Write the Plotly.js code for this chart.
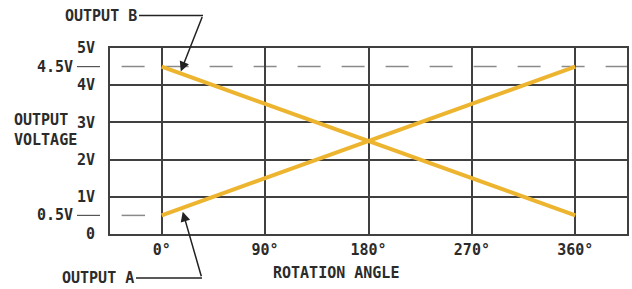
<!DOCTYPE html>
<html>
<head>
<meta charset="utf-8">
<script src="https://cdn.plot.ly/plotly-3.0.1.min.js"></script>
<style>html,body{margin:0;padding:0;background:#fff;}#chart{width:632px;height:289px;}</style>
</head>
<body>
<div id="chart"></div>
<script>
// Data
const angles = [0, 360];
const outputA = [0.5, 4.5];
const outputB = [4.5, 0.5];
const xTickVals = [0, 90, 180, 270, 360];
const xTickText = ['0°', '90°', '180°', '270°', '360°'];
const yTickVals = [0, 1, 2, 3, 4, 5];
const yTickText = ['0', '1V', '2V', '3V', '4V', '5V'];
const refLevels = [4.5, 0.5];
const refLabels = ['4.5V', '0.5V'];

const FONT = 'DejaVu Sans Mono, monospace';
const TXT = '#2b2b2b';
const GRID = '#404040';
const GOLD = '#EDB52F';
const FS = 15;

// plot area in pixels: x 110..627, y 47.5..234
const L = 110, R = 627, T = 47.5, B = 234;
const px = v => (v - L) / (R - L);
const py = v => (B - v) / (B - T);
const f = () => ({family: FONT, size: FS, color: TXT, weight: 'bold'});

const traces = [
  {x: angles, y: outputA, mode: 'lines', line: {color: GOLD, width: 4}, name: 'OUTPUT A', hoverinfo: 'skip'},
  {x: angles, y: outputB, mode: 'lines', line: {color: GOLD, width: 4}, name: 'OUTPUT B', hoverinfo: 'skip'}
];

const shapes = [
  {type: 'line', xref: 'x', yref: 'y', x0: -34.9, x1: 405, y0: refLevels[0], y1: refLevels[0],
   line: {color: '#8a8a8a', width: 1.5, dash: '23px,21px'}, layer: 'below'},
  {type: 'line', xref: 'x', yref: 'y', x0: -34.9, x1: -14.5, y0: refLevels[1], y1: refLevels[1],
   line: {color: '#8a8a8a', width: 1.5}, layer: 'below'},
  {type: 'line', xref: 'paper', yref: 'y', x0: px(77), x1: px(100), y0: refLevels[0], y1: refLevels[0],
   line: {color: '#555', width: 1.2}},
  {type: 'line', xref: 'paper', yref: 'y', x0: px(77), x1: px(100), y0: refLevels[1], y1: refLevels[1],
   line: {color: '#555', width: 1.2}},
  {type: 'line', xref: 'paper', yref: 'paper', x0: px(139), x1: px(203), y0: py(15), y1: py(15),
   line: {color: '#222', width: 1.5}},
  {type: 'line', xref: 'paper', yref: 'paper', x0: px(136), x1: px(202), y0: py(278), y1: py(278),
   line: {color: '#222', width: 1.5}}
];

const annotations = [
  {xref: 'paper', yref: 'y', x: px(75), y: refLevels[0], text: refLabels[0], showarrow: false,
   xanchor: 'right', yanchor: 'middle', font: f()},
  {xref: 'paper', yref: 'y', x: px(75), y: refLevels[1], text: refLabels[1], showarrow: false,
   xanchor: 'right', yanchor: 'middle', font: f()},
  {xref: 'paper', yref: 'paper', x: px(139), y: py(15), text: 'OUTPUT B', showarrow: false,
   xanchor: 'right', yanchor: 'middle', font: f()},
  {xref: 'paper', yref: 'paper', x: px(136), y: py(278), text: 'OUTPUT A', showarrow: false,
   xanchor: 'right', yanchor: 'middle', font: f()},
  {xref: 'paper', yref: 'paper', x: px(12), y: py(130), text: 'OUTPUT<br>VOLTAGE', showarrow: false,
   xanchor: 'left', yanchor: 'middle', align: 'left', font: f()},
  {xref: 'paper', yref: 'paper', x: px(336), y: py(273), text: 'ROTATION ANGLE', showarrow: false,
   xanchor: 'center', yanchor: 'middle', font: f()},
  {xref: 'x', yref: 'y', x: 16.6, y: 4.37, text: '', showarrow: true, ax: 22, ay: -56,
   arrowhead: 2, arrowsize: 1.3, arrowwidth: 1.5, arrowcolor: '#222', standoff: 0},
  {xref: 'x', yref: 'y', x: 18.3, y: 0.6, text: '', showarrow: true, ax: 19, ay: 66,
   arrowhead: 2, arrowsize: 1.3, arrowwidth: 1.5, arrowcolor: '#222', standoff: 0}
];

const layout = {
  width: 632, height: 289,
  margin: {l: L, r: 632 - R, t: T, b: 289 - B, autoexpand: false},
  paper_bgcolor: '#fff', plot_bgcolor: '#fff',
  showlegend: false,
  xaxis: {
    range: [-45, 405], tickvals: xTickVals, ticktext: xTickText,
    showgrid: true, gridcolor: GRID, gridwidth: 2,
    zeroline: false, showline: true, mirror: true, linecolor: GRID, linewidth: 2,
    ticks: '', ticklabelstandoff: 1,
    tickfont: f(), fixedrange: true
  },
  yaxis: {
    range: [0, 5], tickvals: yTickVals, ticktext: yTickText,
    showgrid: true, gridcolor: GRID, gridwidth: 2,
    zeroline: false, showline: true, mirror: true, linecolor: GRID, linewidth: 2,
    ticks: '', ticklabelstandoff: 10,
    tickfont: f(), fixedrange: true
  },
  shapes: shapes,
  annotations: annotations
};

Plotly.newPlot('chart', traces, layout, {displayModeBar: false, staticPlot: true});
</script>
</body>
</html>
